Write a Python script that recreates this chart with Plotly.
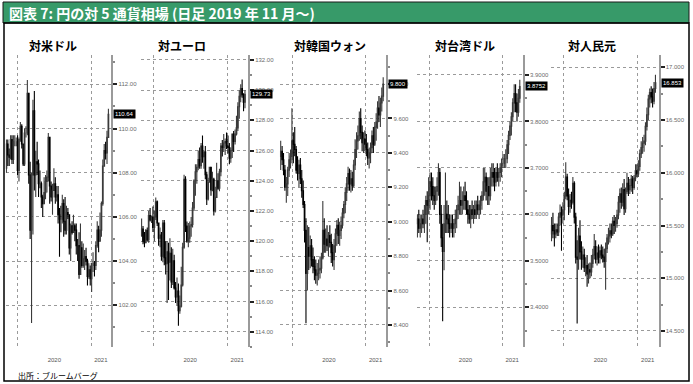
import pandas as pd
import plotly.graph_objects as go

W, H = 693, 384

# ---------------- data (weekly OHLC, week starting Monday) ----------------
weeks = pd.date_range("2019-11-04", periods=74, freq="7D")

usd_open = [108.2,109.3,108.8,108.7,109.5,108.6,109.4,109.4,109.4,108.1,109.5,110.1,109.3,108.4,109.8,109.8,111.6,107.9,105.4,107.9,
            110.8,107.9,108.5,108.4,107.5,107.5,106.9,106.6,107.1,107.6,107.8,109.6,107.4,106.9,107.2,107.5,106.9,107.0,106.1,105.9,
            105.9,106.6,105.8,105.4,106.2,106.1,104.6,105.6,105.3,105.6,105.4,104.7,104.7,103.4,104.6,103.8,104.1,104.2,104.0,103.3,
            103.6,103.2,103.9,103.9,103.8,104.7,105.4,104.9,105.4,106.6,108.3,109.0,108.9,109.6]
usd_high = [109.5,109.5,109.1,109.7,109.7,109.7,109.7,109.6,109.7,109.6,110.3,110.2,109.3,110.0,110.1,112.2,111.6,108.5,108.0,111.3,
            111.7,109.0,109.4,108.6,108.1,107.6,107.0,107.8,107.9,108.1,109.8,109.6,107.6,107.5,108.2,107.8,107.4,107.4,106.4,106.5,
            107.0,106.8,106.9,106.5,106.4,106.1,105.7,105.8,106.1,105.7,105.7,105.0,105.3,105.7,104.9,104.8,104.5,104.6,104.1,103.9,
            103.8,103.9,104.4,104.0,104.9,105.8,105.6,106.2,106.7,108.6,109.3,109.4,109.9,110.9]
usd_low = [108.0,108.3,108.3,108.6,108.4,108.4,109.2,109.2,107.9,107.6,109.4,109.1,108.3,108.3,109.6,109.7,107.5,105.0,101.2,105.2,
           107.2,106.9,107.9,106.9,107.3,106.4,106.0,106.6,106.8,107.1,107.6,106.6,106.7,106.1,107.2,106.6,106.7,105.7,104.2,105.3,
           105.7,105.1,105.2,105.2,105.9,104.3,104.0,105.2,105.3,104.9,104.3,104.0,103.2,103.4,103.7,103.7,103.6,103.8,102.9,103.2,
           102.9,102.6,103.5,103.3,103.6,104.6,104.4,104.9,105.1,106.5,108.3,108.6,108.4,109.6]
usd_close = [109.3,108.8,108.7,109.5,108.6,109.4,109.4,109.4,108.1,109.5,110.1,109.3,108.4,109.8,109.8,111.6,107.9,105.4,107.9,110.8,
             107.9,108.5,108.4,107.5,107.5,106.9,106.6,107.1,107.6,107.8,109.6,107.4,106.9,107.2,107.5,106.9,107.0,106.1,105.9,105.9,
             106.6,105.8,105.4,106.2,106.1,104.6,105.6,105.3,105.6,105.4,104.7,104.7,103.4,104.6,103.8,104.1,104.2,104.0,103.3,103.6,
             103.2,103.9,103.9,103.8,104.7,105.4,104.9,105.4,106.6,108.3,109.0,108.9,109.6,110.64]

eur_open = [120.4,120.8,120.0,119.9,120.7,120.1,121.7,121.4,121.6,120.9,121.6,122.6,121.2,120.2,120.4,119.0,121.2,118.9,118.5,119.3,
            118.6,119.2,117.3,118.7,116.9,116.3,116.7,115.4,115.7,117.1,119.6,124.1,121.0,120.0,120.2,121.0,121.1,122.2,124.0,124.6,
            124.9,125.4,125.0,126.3,125.6,125.9,124.4,122.8,123.9,124.9,123.4,124.1,122.0,122.9,124.0,123.5,124.6,126.3,126.2,126.5,
            126.6,126.3,126.2,125.5,126.0,127.1,126.6,127.1,127.5,128.9,129.6,130.1,129.7,129.2]
eur_high = [121.5,121.0,120.6,120.8,120.9,122.0,122.2,121.7,122.3,122.0,122.9,122.7,121.2,120.9,120.6,121.4,121.4,120.0,120.0,119.9,
            120.2,119.6,119.5,119.1,117.3,117.6,117.2,116.4,118.3,119.9,124.4,124.3,121.3,121.2,121.3,121.6,122.6,124.1,125.1,125.1,
            126.0,126.2,126.5,127.0,126.0,126.3,124.6,124.2,124.9,124.9,124.6,124.2,123.6,125.2,124.5,124.8,126.5,126.7,127.1,126.8,
            127.2,127.0,126.5,126.2,127.1,127.3,127.4,128.3,129.2,130.0,130.4,130.7,129.8,130.0]
eur_low = [120.3,119.8,119.6,119.9,120.0,119.9,121.3,121.2,120.6,120.0,121.4,121.0,119.7,119.6,118.7,118.6,118.4,117.8,115.9,116.1,
           117.4,116.9,117.1,116.8,115.9,115.7,114.4,115.2,115.6,117.0,119.5,120.6,119.9,119.6,119.9,120.3,120.9,122.0,123.0,123.8,
           124.7,124.8,124.8,125.2,124.8,124.1,122.4,122.7,123.9,123.0,123.3,121.7,121.9,122.9,123.4,123.3,124.3,125.6,125.9,125.7,
           126.1,125.8,125.1,125.2,125.5,125.9,126.4,127.0,127.3,128.1,129.2,129.5,128.6,128.8]
eur_close = [120.8,120.0,119.9,120.7,120.1,121.7,121.4,121.6,120.9,121.6,122.6,121.2,120.2,120.4,119.0,121.2,118.9,118.5,119.3,118.6,
             119.2,117.3,118.7,116.9,116.3,116.7,115.4,115.7,117.1,119.6,124.1,121.0,120.0,120.2,121.0,121.1,122.2,124.0,124.6,124.9,
             125.4,125.0,126.3,125.6,125.9,124.4,122.8,123.9,124.9,123.4,124.1,122.0,122.9,124.0,123.5,124.6,126.3,126.2,126.5,126.6,
             126.3,126.2,125.5,126.0,127.1,126.6,127.1,127.5,128.9,129.6,130.1,129.7,129.2,129.73]

krw_open = [9.38,9.41,9.36,9.30,9.20,9.22,9.30,9.36,9.38,9.47,9.45,9.42,9.30,9.28,9.33,9.25,9.18,9.10,8.95,8.70,
            8.85,8.80,8.86,8.78,8.74,8.72,8.69,8.70,8.72,8.73,8.79,8.95,8.87,8.90,8.86,8.92,8.88,8.82,8.78,8.86,
            8.93,8.98,8.92,8.95,8.98,9.05,9.10,9.17,9.22,9.28,9.22,9.25,9.21,9.33,9.42,9.47,9.50,9.60,9.52,9.46,
            9.48,9.45,9.42,9.37,9.40,9.43,9.50,9.45,9.55,9.58,9.66,9.62,9.69,9.73]
krw_high = [9.47,9.44,9.40,9.33,9.26,9.32,9.40,9.42,9.66,9.52,9.55,9.44,9.38,9.36,9.37,9.30,9.24,9.12,9.02,8.98,
            8.97,8.92,8.90,8.85,8.80,8.78,8.76,8.78,8.80,8.82,9.12,9.02,8.96,8.98,8.94,8.98,8.93,8.87,8.90,8.96,
            9.01,9.02,9.00,9.03,9.08,9.12,9.20,9.26,9.32,9.31,9.30,9.29,9.36,9.48,9.52,9.56,9.64,9.66,9.56,9.52,
            9.53,9.51,9.46,9.43,9.46,9.53,9.55,9.58,9.63,9.70,9.73,9.72,9.78,9.84]
krw_low = [9.30,9.33,9.27,9.18,9.11,9.15,9.26,9.31,9.34,9.34,9.38,9.28,9.24,9.20,9.22,9.14,9.08,8.88,8.41,8.60,
           8.72,8.73,8.74,8.70,8.66,8.64,8.63,8.66,8.67,8.70,8.78,8.82,8.82,8.83,8.80,8.85,8.76,8.74,8.72,8.82,
           8.86,8.87,8.86,8.90,8.96,9.02,9.05,9.12,9.18,9.18,9.17,9.18,9.20,9.30,9.37,9.42,9.47,9.48,9.41,9.40,
           9.41,9.38,9.33,9.31,9.34,9.40,9.40,9.44,9.47,9.54,9.58,9.55,9.64,9.70]
krw_close = [9.41,9.36,9.30,9.20,9.22,9.30,9.36,9.38,9.47,9.45,9.42,9.30,9.28,9.33,9.25,9.18,9.10,8.95,8.70,8.85,
             8.80,8.86,8.78,8.74,8.72,8.69,8.70,8.72,8.73,8.79,8.95,8.87,8.90,8.86,8.92,8.88,8.82,8.78,8.86,8.93,
             8.98,8.92,8.95,8.98,9.05,9.10,9.17,9.22,9.28,9.22,9.25,9.21,9.33,9.42,9.47,9.50,9.60,9.52,9.46,9.48,
             9.45,9.42,9.37,9.40,9.43,9.50,9.45,9.55,9.58,9.66,9.62,9.69,9.73,9.80]

twd_open = [3.58,3.59,3.57,3.58,3.59,3.58,3.60,3.63,3.62,3.64,3.67,3.66,3.64,3.63,3.65,3.66,3.69,3.60,3.55,3.52,
            3.58,3.60,3.59,3.58,3.57,3.58,3.57,3.58,3.59,3.61,3.62,3.63,3.62,3.63,3.64,3.63,3.61,3.60,3.59,3.61,
            3.60,3.61,3.60,3.62,3.61,3.62,3.63,3.64,3.67,3.68,3.65,3.66,3.64,3.68,3.69,3.68,3.67,3.69,3.68,3.69,
            3.70,3.71,3.71,3.72,3.72,3.75,3.77,3.79,3.81,3.84,3.86,3.84,3.82,3.85]
twd_high = [3.60,3.61,3.60,3.60,3.61,3.62,3.64,3.65,3.68,3.69,3.69,3.68,3.66,3.66,3.68,3.71,3.70,3.62,3.58,3.62,
            3.69,3.63,3.62,3.60,3.60,3.60,3.59,3.61,3.62,3.64,3.67,3.66,3.65,3.66,3.67,3.65,3.63,3.62,3.62,3.63,
            3.62,3.63,3.63,3.64,3.63,3.64,3.65,3.70,3.70,3.69,3.68,3.68,3.70,3.71,3.71,3.70,3.70,3.71,3.70,3.71,
            3.72,3.73,3.73,3.74,3.76,3.78,3.80,3.82,3.85,3.88,3.88,3.86,3.87,3.89]
twd_low = [3.55,3.56,3.55,3.56,3.57,3.56,3.58,3.54,3.60,3.61,3.63,3.62,3.61,3.62,3.63,3.64,3.58,3.53,3.37,3.48,
           3.56,3.56,3.56,3.55,3.56,3.55,3.55,3.56,3.57,3.59,3.60,3.60,3.60,3.61,3.61,3.60,3.58,3.58,3.57,3.59,
           3.58,3.59,3.59,3.60,3.59,3.60,3.61,3.63,3.64,3.63,3.62,3.62,3.63,3.66,3.66,3.65,3.66,3.67,3.66,3.67,
           3.68,3.70,3.70,3.70,3.71,3.73,3.76,3.77,3.80,3.82,3.82,3.80,3.81,3.84]
twd_close = [3.59,3.57,3.58,3.59,3.58,3.60,3.63,3.62,3.64,3.67,3.66,3.64,3.63,3.65,3.66,3.69,3.60,3.55,3.52,3.58,
             3.60,3.59,3.58,3.57,3.58,3.57,3.58,3.59,3.61,3.62,3.63,3.62,3.63,3.64,3.63,3.61,3.60,3.59,3.61,3.60,
             3.61,3.60,3.62,3.61,3.62,3.63,3.64,3.67,3.68,3.65,3.66,3.64,3.68,3.69,3.68,3.67,3.69,3.68,3.69,3.70,
             3.71,3.71,3.72,3.72,3.75,3.77,3.79,3.81,3.84,3.86,3.84,3.82,3.85,3.8752]

cny_open = [15.42,15.50,15.45,15.42,15.46,15.44,15.58,15.62,15.60,15.65,15.78,15.96,15.78,15.68,15.74,15.72,15.90,15.58,15.20,15.18,
            15.40,15.25,15.18,15.22,15.10,15.12,15.04,15.08,15.06,15.14,15.22,15.30,15.18,15.24,15.20,15.26,15.22,15.20,15.16,15.28,
            15.38,15.40,15.45,15.42,15.54,15.50,15.52,15.60,15.72,15.80,15.72,15.84,15.66,15.82,15.90,15.84,15.88,15.94,15.86,15.95,
            16.02,15.99,16.06,16.18,16.24,16.28,16.30,16.44,16.55,16.70,16.76,16.72,16.68,16.80]
cny_high = [15.58,15.62,15.52,15.52,15.52,15.62,15.70,15.68,15.72,15.82,16.10,15.99,15.85,15.80,15.82,15.96,15.92,15.62,15.36,15.48,
            15.55,15.35,15.30,15.28,15.20,15.22,15.14,15.15,15.22,15.28,15.42,15.36,15.30,15.32,15.30,15.32,15.30,15.28,15.34,15.42,
            15.48,15.52,15.52,15.58,15.60,15.58,15.65,15.78,15.85,15.86,15.90,15.94,15.86,16.00,15.96,15.94,15.98,15.97,15.98,16.08,
            16.08,16.12,16.22,16.30,16.34,16.36,16.48,16.62,16.74,16.80,16.82,16.80,16.86,16.93]
cny_low = [15.35,15.38,15.30,15.38,15.40,15.40,15.50,15.26,15.52,15.55,15.75,15.74,15.60,15.62,15.66,15.70,15.52,15.14,14.57,15.08,
           15.18,15.08,15.10,15.06,15.02,14.92,14.95,15.00,15.02,15.10,15.18,15.14,15.12,15.14,15.14,15.18,15.15,15.10,14.89,15.24,
           15.32,15.34,15.38,15.40,15.42,15.44,15.48,15.56,15.62,15.66,15.68,15.60,15.62,15.80,15.78,15.80,15.82,15.80,15.84,15.92,
           15.96,15.96,16.02,16.14,16.18,16.20,16.26,16.40,16.50,16.62,16.66,16.62,16.65,16.76]
cny_close = [15.50,15.45,15.42,15.46,15.44,15.58,15.62,15.60,15.65,15.78,15.96,15.78,15.68,15.74,15.72,15.90,15.58,15.20,15.18,15.40,
             15.25,15.18,15.22,15.10,15.12,15.04,15.08,15.06,15.14,15.22,15.30,15.18,15.24,15.20,15.26,15.22,15.20,15.16,15.28,15.38,
             15.40,15.45,15.42,15.54,15.50,15.52,15.60,15.72,15.80,15.72,15.84,15.66,15.82,15.90,15.84,15.88,15.94,15.86,15.95,16.02,
             15.99,16.06,16.18,16.24,16.28,16.30,16.44,16.55,16.70,16.76,16.72,16.68,16.80,16.853]

panel_titles = ["対米ドル", "対ユーロ", "対韓国ウォン", "対台湾ドル", "対人民元"]
last_labels = ["110.64", "129.73", "9.800", "3.8752", "16.853"]
year_ticks = ["2020-07-01", "2021-02-19"]
year_labels = ["2020", "2021"]

series = [
    (usd_open, usd_high, usd_low, usd_close),
    (eur_open, eur_high, eur_low, eur_close),
    (krw_open, krw_high, krw_low, krw_close),
    (twd_open, twd_high, twd_low, twd_close),
    (cny_open, cny_high, cny_low, cny_close),
]

# ---------------- layout / style ----------------
def px_x(p):
    return p / W

def px_y(p):
    return 1 - p / H

panel_px = [(5.6, 111.4), (140.8, 248.0), (279.9, 386.2), (416.6, 522.8), (550.7, 658.5)]
title_px = [53, 182, 330, 465, 592]
y_ranges = [[100.11, 113.33], [112.99, 132.33], [8.272, 9.969], [3.3146, 3.943], [14.348, 17.117]]
y_dtick = [2, 2, 0.2, 0.1, 0.5]
y_minor = [1, 1, 0.1, 0.05, 0.25]
y_fmt = [".2f", ".2f", ".3f", ".4f", ".3f"]
x_range = ["2019-10-31", "2021-04-13"]
y_dom = [px_y(347), px_y(55)]

fig = go.Figure()
layout = dict(
    width=W, height=H, margin=dict(l=0, r=0, t=0, b=0),
    paper_bgcolor="white", plot_bgcolor="white", showlegend=False,
    font=dict(family="Liberation Sans, Arial, sans-serif", color="#333"),
)
annotations = []
shapes = []

for k in range(5):
    o, h, l, c = series[k]
    sfx = "" if k == 0 else str(k + 1)
    fig.add_trace(go.Candlestick(
        x=weeks, open=o, high=h, low=l, close=c,
        xaxis="x" + sfx, yaxis="y" + sfx,
        increasing=dict(line=dict(color="#3a3a3a", width=1.1), fillcolor="#9a9a9a"),
        decreasing=dict(line=dict(color="#000000", width=1.1), fillcolor="#000000"),
        whiskerwidth=0, hoverinfo="skip",
    ))
    x0, x1 = panel_px[k]
    layout["xaxis" + sfx] = dict(
        domain=[px_x(x0), px_x(x1)], range=x_range, type="date",
        anchor="y" + sfx, rangeslider=dict(visible=False),
        tickvals=year_ticks, ticktext=year_labels,
        ticks="outside", ticklen=7, tickcolor="rgba(0,0,0,0)",
        tickfont=dict(size=6, color="#555"),
        showgrid=False, zeroline=False, showline=False,
        minor=dict(tick0="2020-01-01", dtick="M12", showgrid=True,
                   gridcolor="#9a9a9a", griddash="dot", gridwidth=1, ticks=""),
        fixedrange=True,
    )
    layout["yaxis" + sfx] = dict(
        domain=y_dom, range=y_ranges[k], anchor="x" + sfx, side="right",
        dtick=y_dtick[k], tick0=0, tickformat=y_fmt[k],
        ticks="outside", ticklen=4, tickwidth=2, tickcolor="#222",
        tickfont=dict(size=6, color="#6b6b6b"),
        showline=True, linecolor="#9a9a9a", linewidth=2,
        showgrid=True, gridcolor="#9a9a9a", griddash="dot", gridwidth=1,
        zeroline=False,
        minor=dict(dtick=y_minor[k], tick0=0, ticks="outside", ticklen=2,
                   tickcolor="#888", showgrid=False),
        fixedrange=True,
    )
    annotations.append(dict(
        x=px_x(title_px[k]), y=px_y(45), xref="paper", yref="paper",
        text="<b>" + panel_titles[k] + "</b>", showarrow=False,
        font=dict(size=12, color="#000", family="Noto Sans CJK JP"),
        xanchor="center", yanchor="middle",
    ))
    annotations.append(dict(
        x=px_x(x1 + 2), y=c[-1], xref="paper", yref="y" + sfx,
        text=last_labels[k], showarrow=False,
        font=dict(size=6, color="white"), bgcolor="#000", borderpad=1,
        xanchor="left", yanchor="middle",
    ))

shapes.append(dict(type="rect", xref="paper", yref="paper",
                   x0=px_x(3), x1=px_x(689), y0=px_y(23), y1=px_y(2),
                   fillcolor="#379a69", line=dict(color="#1b1b1b", width=1)))
shapes.append(dict(type="rect", xref="paper", yref="paper",
                   x0=px_x(4), x1=px_x(689), y0=px_y(381), y1=px_y(23),
                   fillcolor="rgba(0,0,0,0)", line=dict(color="#000", width=1.5)))

annotations.append(dict(
    x=px_x(7), y=px_y(12.5), xref="paper", yref="paper",
    text="<b>図表 7: 円の対 5 通貨相場 (日足 2019 年 11 月〜)</b>", showarrow=False,
    font=dict(size=14, color="white", family="Noto Sans CJK JP"),
    xanchor="left", yanchor="middle",
))
annotations.append(dict(
    x=px_x(16), y=px_y(375), xref="paper", yref="paper",
    text="出所：ブルームバーグ", showarrow=False,
    font=dict(size=8, color="#000", family="Noto Sans CJK JP"),
    xanchor="left", yanchor="middle",
))

layout["annotations"] = annotations
layout["shapes"] = shapes
fig.update_layout(**layout)
fig.write_html(
    "out.html",
    config={"displayModeBar": False},
    post_script="document.body.style.margin='0px';document.body.style.overflow='hidden';",
)
